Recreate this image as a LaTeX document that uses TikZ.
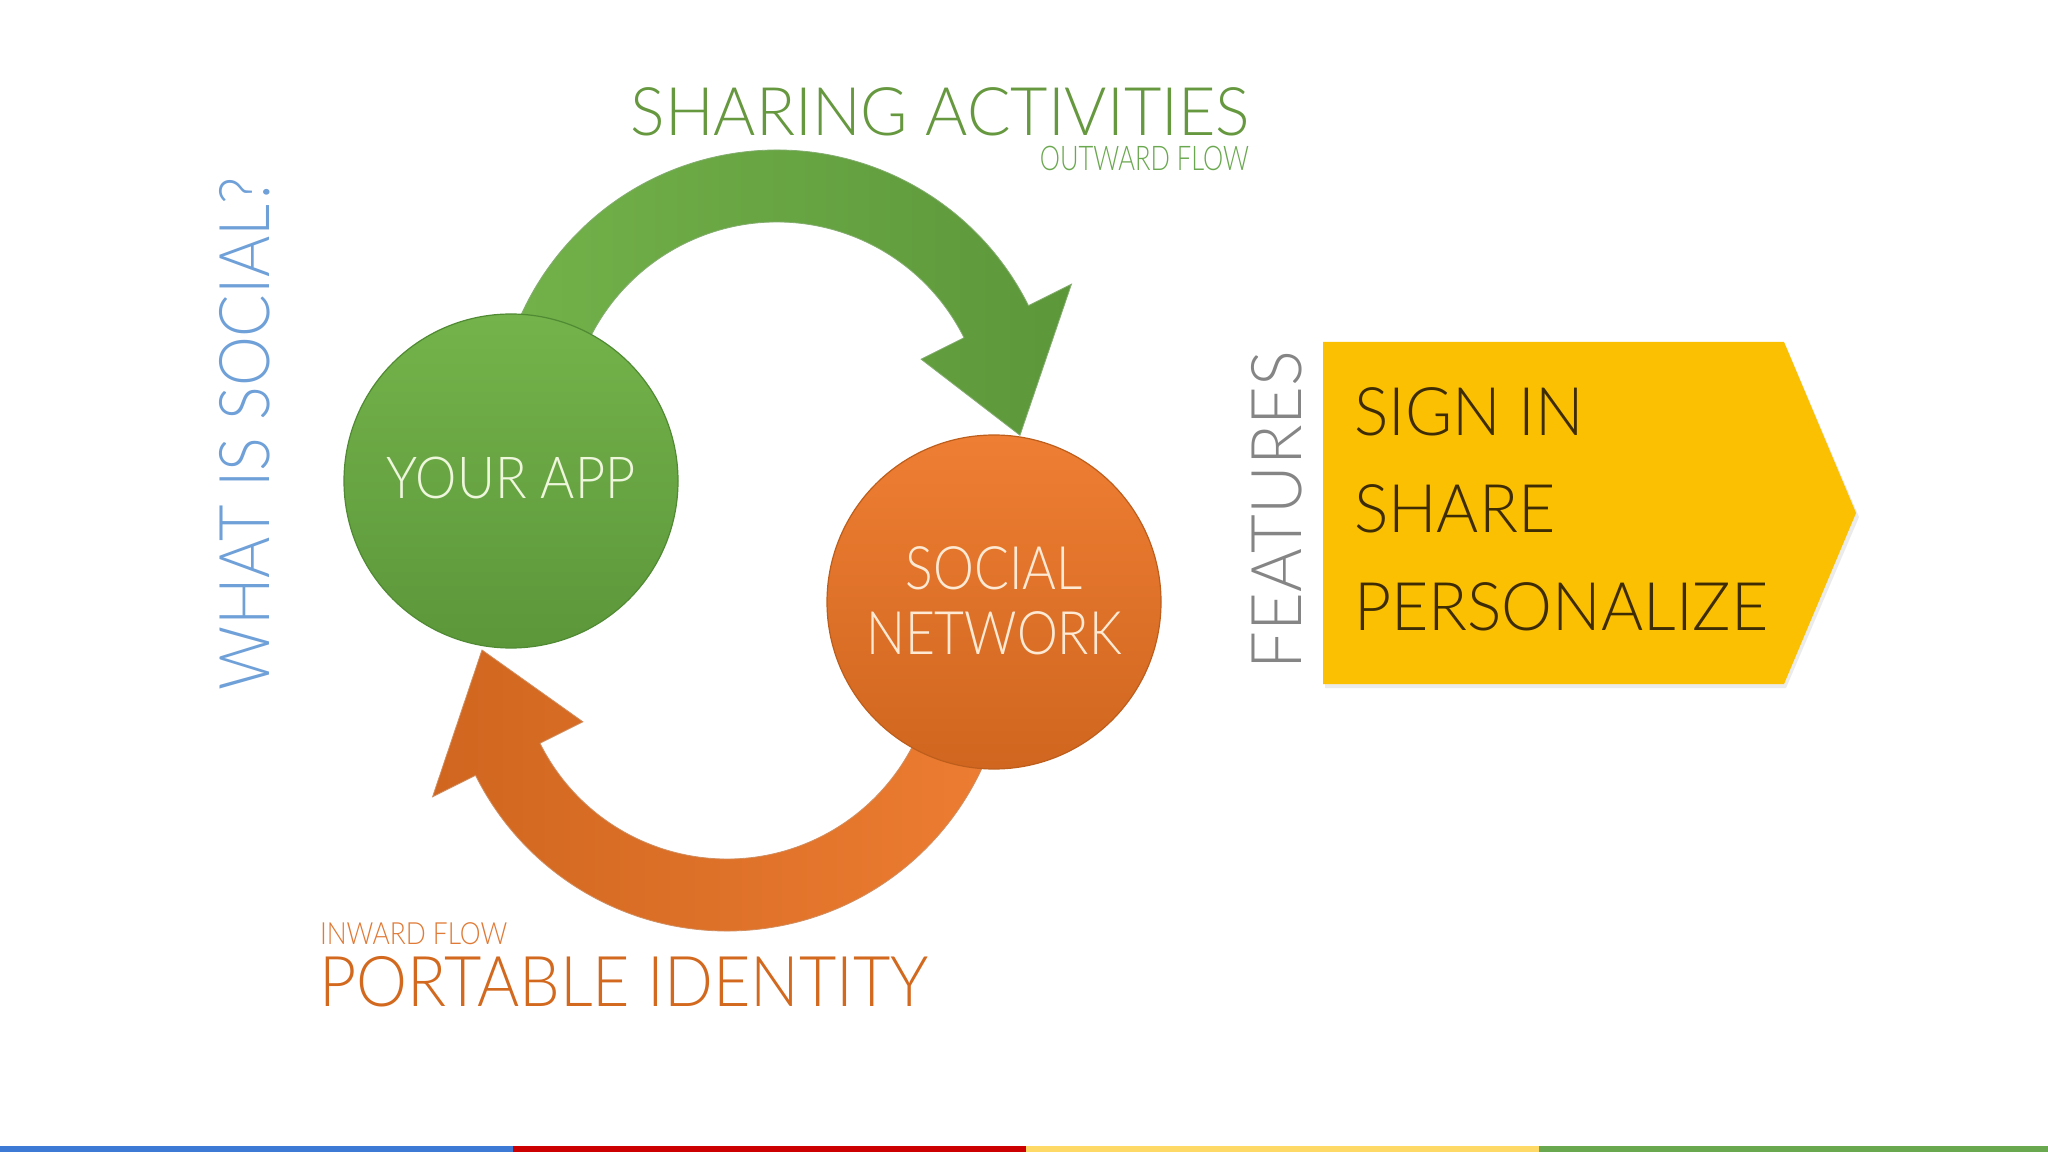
\documentclass[tikz,border=0pt]{standalone}
\usepackage{fontspec}
\IfFontExistsTF{Lato Light}{\setmainfont{Lato Light}}{\setmainfont{Lato}}
\newcommand{\fsz}[1]{\fontsize{#1}{1.2\dimexpr#1pt\relax}\selectfont}
\newcommand{\sx}[2]{\scalebox{#1}[1]{#2}}
\definecolor{gA}{HTML}{74B34B}
\definecolor{gB}{HTML}{5C973A}
\definecolor{gEdge}{HTML}{508A33}
\definecolor{oA}{HTML}{EE7E33}
\definecolor{oB}{HTML}{D0661F}
\definecolor{oEdge}{HTML}{BE5E1C}
\definecolor{titleG}{HTML}{66983F}
\definecolor{subG}{HTML}{6AA84F}
\definecolor{titleO}{HTML}{D2691E}
\definecolor{subO}{HTML}{E07A36}
\definecolor{blueT}{HTML}{6FA0D8}
\definecolor{grayT}{HTML}{858585}
\definecolor{yel}{HTML}{FBC002}
\definecolor{listT}{HTML}{3E2C05}
\definecolor{appT}{HTML}{EEF6DC}
\definecolor{snT}{HTML}{FDE9D4}
\definecolor{barB}{HTML}{3D7AD6}
\definecolor{barR}{HTML}{CC0000}
\definecolor{barY}{HTML}{FFD966}
\definecolor{barG}{HTML}{6AA84F}
\begin{document}
\begin{tikzpicture}[x=0.5pt,y=0.5pt,
  every node/.style={inner sep=0pt, outer sep=0pt},
  bubble/.style={circle, minimum size=167pt, line width=0.6pt},
  txt/.style={anchor=base}]
\fill[white] (0,0) rectangle (2048,1152);
\useasboundingbox (0,0) rectangle (2048,1152);

% bottom colour bar
\fill[barB] (0,0) rectangle (513,6);
\fill[barR] (513,0) rectangle (1026,6);
\fill[barY] (1026,0) rectangle (1539,6);
\fill[barG] (1539,0) rectangle (2048,6);

% green arrow (outward flow)
\begin{scope}[shift={(777,721)}]
\shade[left color=gA, right color=gB, draw=gEdge!70, line width=0.4pt]
  (190:281) arc[start angle=190, end angle=26.5, radius=281]
  -- (26.5:329) -- (-1:243) -- (26.5:161) -- (26.5:209)
  arc[start angle=26.5, end angle=190, radius=209] -- cycle;
\end{scope}

% orange arrow (inward flow)
\begin{scope}[shift={(727,502)}]
\shade[left color=oB, right color=oA, draw=oEdge!70, line width=0.4pt]
  (10:281) arc[start angle=10, end angle=-153.5, radius=281]
  -- (-153.5:329) -- (180:245) -- (-153.5:161) -- (-153.5:209)
  arc[start angle=-153.5, end angle=10, radius=209] -- cycle;
\end{scope}

% circles
\node[bubble, draw=gEdge, top color=gA, bottom color=gB] (app) at (511,671) {};
\node[bubble, draw=oEdge, top color=oA, bottom color=oB] (sn) at (994,550) {};

\node[txt, text=appT] (apptxt) at (511,653) {\fsz{29}\sx{0.9}{YOUR APP}};
\node[txt, text=snT] (sntxt1) at (994,562) {\fsz{30}\sx{0.86}{SOCIAL}};
\node[txt, text=snT] (sntxt2) at (994,498) {\fsz{30}\sx{0.86}{NETWORK}};

% titles
\node[anchor=base east, text=titleG] (share) at (1250,1016) {\fsz{33.5}\sx{0.963}{SHARING ACTIVITIES}};
\node[anchor=base east, text=subG] (outw) at (1249,981) {\fsz{17}\sx{0.75}{OUTWARD FLOW}};
\node[anchor=base west, text=subO] (inw) at (320,208) {\fsz{15.3}\sx{0.86}{INWARD FLOW}};
\node[anchor=base west, text=titleO] (port) at (319,146) {\fsz{35}\sx{0.92}{PORTABLE IDENTITY}};

\node[anchor=base west, rotate=90, text=blueT] (what) at (269,462) {\fsz{35}\sx{0.9}{WHAT IS SOCIAL?}};
\node[anchor=base west, rotate=90, text=grayT] (feat) at (1301,483) {\fsz{35}\sx{0.956}{FEATURES}};

% features box
\fill[black, opacity=0.08] (1325,464) -- (1325,806) -- (1786,806) -- (1859,635) -- (1786,464) -- cycle;
\fill[yel] (1323,468) -- (1323,810) -- (1784,810) -- (1856,639) -- (1784,468) -- cycle;
\node[anchor=base west, text=listT] (f1) at (1354,716) {\fsz{33.5}\sx{0.96}{SIGN IN}};
\node[anchor=base west, text=listT] (f2) at (1354,619) {\fsz{33.5}\sx{0.96}{SHARE}};
\node[anchor=base west, text=listT] (f3) at (1354,522) {\fsz{33.5}\sx{0.96}{PERSONALIZE}};
\end{tikzpicture}
\end{document}
